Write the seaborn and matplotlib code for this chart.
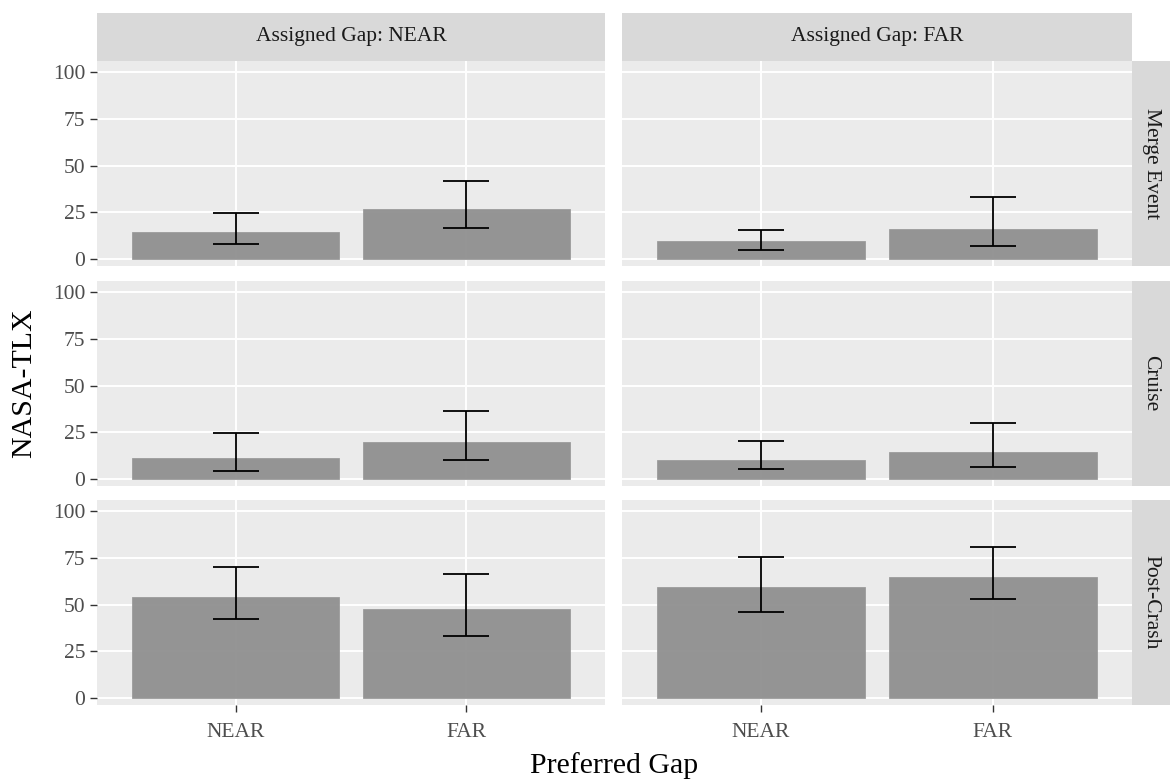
import numpy as np
import pandas as pd
import matplotlib
matplotlib.use("Agg")
import matplotlib.pyplot as plt
import seaborn as sns

# ---- data ----
phases = ["Merge Event", "Cruise", "Post-Crash"]
assigned = ["NEAR", "FAR"]
preferred = ["NEAR", "FAR"]

# mean NASA-TLX, lower and upper error limits; [assigned] -> [pref NEAR, pref FAR]
merge_mean = {"NEAR": [14.3, 27.0], "FAR": [9.8, 16.1]}
merge_lo = {"NEAR": [8.2, 16.8], "FAR": [5.0, 7.2]}
merge_hi = {"NEAR": [24.5, 41.5], "FAR": [15.7, 32.9]}

cruise_mean = {"NEAR": [11.0, 19.6], "FAR": [10.0, 14.2]}
cruise_lo = {"NEAR": [4.1, 10.4], "FAR": [5.2, 6.3]}
cruise_hi = {"NEAR": [24.6, 36.4], "FAR": [20.3, 30.0]}

crash_mean = {"NEAR": [54.2, 47.8], "FAR": [59.6, 64.9]}
crash_lo = {"NEAR": [42.0, 33.3], "FAR": [46.2, 52.8]}
crash_hi = {"NEAR": [69.9, 66.5], "FAR": [75.3, 80.7]}

y_ticks = [0, 25, 50, 75, 100]

rows = []
for ph, m, lo, hi in [("Merge Event", merge_mean, merge_lo, merge_hi),
                      ("Cruise", cruise_mean, cruise_lo, cruise_hi),
                      ("Post-Crash", crash_mean, crash_lo, crash_hi)]:
    for a in assigned:
        for i, p in enumerate(preferred):
            rows.append(dict(phase=ph, assigned=a, pref=p,
                             tlx=m[a][i], lo=lo[a][i], hi=hi[a][i]))
df = pd.DataFrame(rows)

# ---- style ----
sns.set_theme(style="darkgrid")
plt.rcParams["font.family"] = ["Liberation Serif", "DejaVu Serif"]

W, H = 1170, 783
fig = plt.figure(figsize=(W / 100, H / 100), dpi=100)
fig.patch.set_facecolor("white")

col_x = [(97, 605), (622, 1132)]
row_y = [(61, 266), (281, 486), (500, 705)]
strip_top = 13
strip_right = 1170

def fx(x):
    return x / W

def fy(y):
    return 1 - y / H

tick_fs = 15.5
strip_fs = 15.5
title_fs = 21.5

for r, ph in enumerate(phases):
    for c, a in enumerate(assigned):
        x0, x1 = col_x[c]
        y0, y1 = row_y[r]
        ax = fig.add_axes([fx(x0), fy(y1), fx(x1 - x0), (y1 - y0) / H])
        ax.set_facecolor("#EBEBEB")
        sub = df[(df.phase == ph) & (df.assigned == a)]
        sns.barplot(data=sub, x="pref", y="tlx", order=preferred, ax=ax,
                    color="#919191", saturation=1, width=0.9, errorbar=None,
                    edgecolor="#9a9a9a", linewidth=0.6, alpha=0.96, zorder=2)
        xs = np.arange(len(preferred))
        means = sub["tlx"].to_numpy()
        yerr = np.vstack([means - sub["lo"].to_numpy(), sub["hi"].to_numpy() - means])
        ax.errorbar(xs, means, yerr=yerr, fmt="none", ecolor="black",
                    elinewidth=1.3, capsize=16.5, capthick=1.3, zorder=3)
        ax.set_xlim(-0.6, 1.6)
        ax.set_ylim(-3.74, 105.88)
        ax.set_yticks(y_ticks)
        ax.grid(True, color="white", linewidth=1.4, zorder=0)
        ax.set_axisbelow(True)
        for s in ax.spines.values():
            s.set_visible(False)
        ax.set_xlabel("")
        ax.set_ylabel("")
        ax.tick_params(axis="both", colors="#333333", length=5, width=1,
                       labelsize=tick_fs, labelcolor="#4D4D4D")
        ax.tick_params(axis="y", pad=3.5)
        ax.tick_params(axis="x", pad=8)
        if c != 0:
            ax.tick_params(axis="y", left=False, labelleft=False)
        else:
            ax.tick_params(axis="y", left=True, labelleft=True)
        if r != len(phases) - 1:
            ax.tick_params(axis="x", bottom=False, labelbottom=False)
        else:
            ax.tick_params(axis="x", bottom=True, labelbottom=True)

        # top strips
        if r == 0:
            sax = fig.add_axes([fx(x0), fy(y0), fx(x1 - x0), (y0 - strip_top) / H])
            sax.set_facecolor("#D9D9D9")
            sax.set_xticks([]); sax.set_yticks([])
            for s in sax.spines.values():
                s.set_visible(False)
            sax.text(0.5, 0.5, f"Assigned Gap: {a}", ha="center", va="center",
                     fontsize=strip_fs, color="#1A1A1A", transform=sax.transAxes)
        # right strips
        if c == len(assigned) - 1:
            sax = fig.add_axes([fx(x1), fy(y1), fx(strip_right - x1), (y1 - y0) / H])
            sax.set_facecolor("#D9D9D9")
            sax.set_xticks([]); sax.set_yticks([])
            for s in sax.spines.values():
                s.set_visible(False)
            sax.text(0.5, 0.5, ph, ha="center", va="center", rotation=-90,
                     fontsize=strip_fs, color="#1A1A1A", transform=sax.transAxes)

fig.text(fx(24), fy(383), "NASA-TLX", rotation=90, ha="center", va="center",
         fontsize=title_fs, color="black")
fig.text(fx(614), fy(766), "Preferred Gap", ha="center", va="center",
         fontsize=title_fs, color="black")

fig.savefig("out.png", dpi=100, facecolor="white")
